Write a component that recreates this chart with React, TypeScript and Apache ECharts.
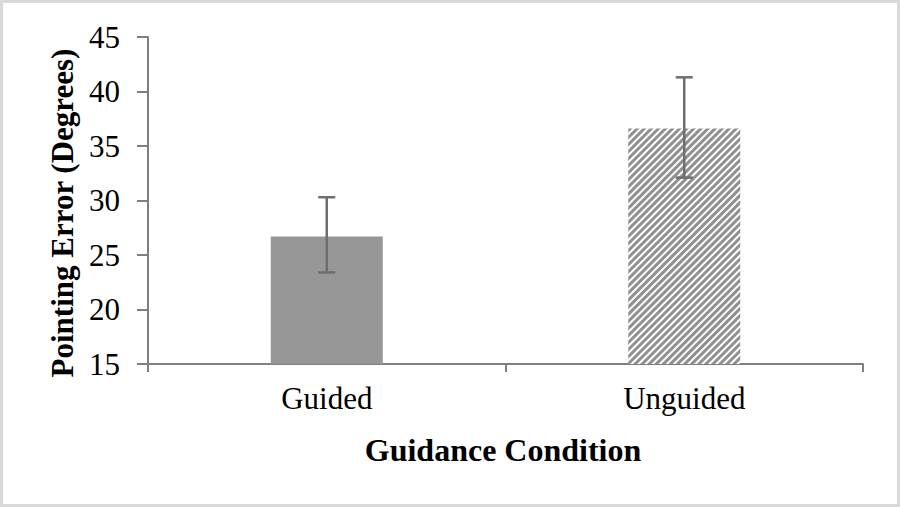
import React, { useEffect, useRef } from "react";
import * as echarts from "echarts";

const categories = ["Guided", "Unguided"];
const meanValues = [26.7, 36.6];
const errorLow = [23.4, 32.1];
const errorHigh = [30.3, 41.3];
const yTicks = { min: 15, max: 45, interval: 5 };

export default function App() {
  const ref = useRef<HTMLDivElement>(null);
  useEffect(() => {
    if (!ref.current) return;
    const chart = echarts.init(ref.current, null, { renderer: "svg" });
    const font = "'Liberation Serif', 'Times New Roman', serif";
    const axisColor = "#7f7f7f";
    chart.setOption({
      animation: false,
      backgroundColor: "#ffffff",
      grid: { left: 148, top: 37, width: 715, height: 327 },
      xAxis: {
        type: "category",
        data: categories,
        boundaryGap: true,
        axisLine: { lineStyle: { color: axisColor, width: 2 } },
        axisTick: { show: true, length: 8, lineStyle: { color: axisColor, width: 2 } },
        axisLabel: { color: "#000", fontFamily: font, fontSize: 31, margin: 19 },
      },
      yAxis: {
        type: "value",
        min: yTicks.min,
        max: yTicks.max,
        interval: yTicks.interval,
        splitLine: { show: false },
        axisLine: { show: true, lineStyle: { color: axisColor, width: 2 } },
        axisTick: { show: true, length: 11, lineStyle: { color: axisColor, width: 2 } },
        axisLabel: { color: "#000", fontFamily: font, fontSize: 31, margin: 28 },
      },
      graphic: [
        {
          type: "rect",
          shape: { x: 1.5, y: 1.5, width: 897, height: 504 },
          style: { fill: "none", stroke: "#d9d9d9", lineWidth: 3 },
          silent: true,
        },
        {
          type: "text",
          x: 62,
          y: 213,
          rotation: Math.PI / 2,
          style: {
            text: "Pointing Error (Degrees)",
            fontFamily: font,
            fontSize: 31,
            fontWeight: "bold",
            fill: "#000",
            textAlign: "center",
            textVerticalAlign: "middle",
          },
        },
        {
          type: "text",
          x: 503,
          y: 450,
          style: {
            text: "Guidance Condition",
            fontFamily: font,
            fontSize: 32,
            fontWeight: "bold",
            fill: "#000",
            textAlign: "center",
            textVerticalAlign: "middle",
          },
        },
      ],
      series: [
        {
          type: "bar",
          barWidth: 112,
          data: meanValues.map((v, i) =>
            i === 0
              ? { value: v, itemStyle: { color: "#979797" } }
              : {
                  value: v,
                  itemStyle: {
                    color: "#ffffff",
                    decal: {
                      symbol: "rect",
                      symbolSize: 1,
                      color: "#909090",
                      dashArrayX: [1, 0],
                      dashArrayY: [2.5, 2],
                      rotation: -Math.PI / 4,
                    },
                  },
                }
          ),
        },
        {
          type: "custom",
          data: categories.map((_, i) => [i, errorLow[i], errorHigh[i]]),
          renderItem: (params: any, api: any) => {
            const x = api.value(0);
            const lo = api.coord([x, api.value(1)]);
            const hi = api.coord([x, api.value(2)]);
            const hw = 8.5;
            const style = { stroke: "#6e6e6e", lineWidth: 2.5 };
            return {
              type: "group",
              children: [
                { type: "line", shape: { x1: hi[0], y1: hi[1], x2: lo[0], y2: lo[1] }, style },
                { type: "line", shape: { x1: hi[0] - hw, y1: hi[1], x2: hi[0] + hw, y2: hi[1] }, style },
                { type: "line", shape: { x1: lo[0] - hw, y1: lo[1], x2: lo[0] + hw, y2: lo[1] }, style },
              ],
            };
          },
          z: 10,
        },
      ],
    });
    return () => chart.dispose();
  }, []);
  return (
    <div
      ref={ref}
      style={{ position: "fixed", left: 0, top: 0, width: 900, height: 507 }}
    />
  );
}
